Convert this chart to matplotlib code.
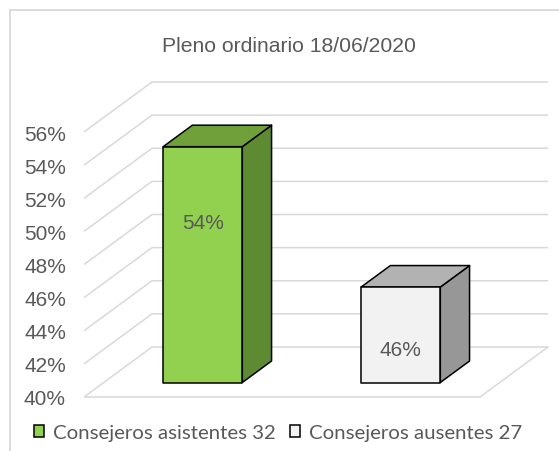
import matplotlib.pyplot as plt
import matplotlib.patches as mpatches
from matplotlib.patches import Polygon, Rectangle

# data
categories = ['Consejeros asistentes 32', 'Consejeros ausentes 27']
counts = [32, 27]
total = sum(counts)
values = [100.0 * c / total for c in counts]   # 54.2%, 45.8%
yticks = [40, 42, 44, 46, 48, 50, 52, 54, 56]
ytick_labels = ['40%', '42%', '44%', '46%', '48%', '50%', '52%', '54%', '56%']

front_colors = ['#92D050', '#F2F2F2']
top_colors = ['#70A03A', '#B2B2B2']
side_colors = ['#5E8A31', '#979797']
label_frac = [0.686, 0.368]   # where the data label sits up the bar

grid_c = '#D9D9D9'
text_c = '#595959'

# oblique "3D" look: full depth shifts by (ddx categories, ddy percent)
ddx, ddy = 68 / 198, 50 / 16.5625
d_front, d_back = 0.29, 0.72
bar_w = 0.4
ymin = 40


def proj(x, y, d):
    return (x + d * ddx, y + d * ddy)


fig = plt.figure(figsize=(5.59, 4.52), dpi=100)
ax = fig.add_axes([84 / 559, 0, 1 - 84 / 559, 1])
ax.set_xlim(0, 475 / 198)
ax.set_ylim(40 - 54 / 16.5625, 40 + 398 / 16.5625)
for s in ax.spines.values():
    s.set_visible(False)
ax.set_xticks([])
ax.set_yticks(yticks)
ax.set_yticklabels(ytick_labels, fontsize=15, color=text_c, family='Liberation Sans')
ax.tick_params(axis='y', length=0, pad=13)

# walls and floor
n = len(categories)
for v in yticks:
    a, b = proj(0, v, 0), proj(0, v, 1)
    c = proj(n, v, 1)
    ax.plot([a[0], b[0], c[0]], [a[1], b[1], c[1]], color=grid_c, lw=1.1, zorder=1,
            solid_capstyle='butt')
f0, f1, f2 = proj(0, ymin, 0), proj(n, ymin, 0), proj(n, ymin, 1)
ax.plot([f0[0], f1[0], f2[0]], [f0[1], f1[1], f2[1]], color=grid_c, lw=1.1, zorder=1)

# bars
for i, v in enumerate(values):
    xl, xr = i + 0.5 - bar_w / 2, i + 0.5 + bar_w / 2
    front = [proj(xl, ymin, d_front), proj(xr, ymin, d_front),
             proj(xr, v, d_front), proj(xl, v, d_front)]
    top = [proj(xl, v, d_front), proj(xr, v, d_front),
           proj(xr, v, d_back), proj(xl, v, d_back)]
    side = [proj(xr, ymin, d_front), proj(xr, ymin, d_back),
            proj(xr, v, d_back), proj(xr, v, d_front)]
    for pts, col in [(side, side_colors[i]), (top, top_colors[i]), (front, front_colors[i])]:
        ax.add_patch(Polygon(pts, closed=True, facecolor=col, edgecolor='black',
                             lw=1.1, joinstyle='round', zorder=3))
    lx, ly = proj(i + 0.5, ymin + label_frac[i] * (v - ymin), d_front)
    ax.text(lx, ly, f'{round(v)}%', ha='center', va='center_baseline', fontsize=15,
            color=text_c, family='Liberation Sans', zorder=4)

fig.text(289 / 559, 1 - 51.7 / 452, 'Pleno ordinario 18/06/2020', ha='center',
         va='baseline', fontsize=15.2, color=text_c, family='Liberation Sans')

# chart border (runs off the right and bottom of the picture)
fig.add_artist(Rectangle((9.5 / 559, -0.1), 1.2, 1 - 10.5 / 452 + 0.1,
                         transform=fig.transFigure, fill=False,
                         edgecolor=grid_c, lw=1.3))

handles = [mpatches.Patch(facecolor=front_colors[i], edgecolor='black', lw=1.1)
           for i in range(n)]
fig.legend(handles, categories, loc='center left', bbox_to_anchor=(34 / 559, 1 - 434 / 452),
           ncol=2, frameon=False, handlelength=0.5, handleheight=0.5,
           handletextpad=0.42, columnspacing=0.72, borderpad=0, borderaxespad=0,
           prop={'family': 'Lato', 'size': 14.7}, labelcolor=text_c)

fig.savefig('out.png', dpi=100)
